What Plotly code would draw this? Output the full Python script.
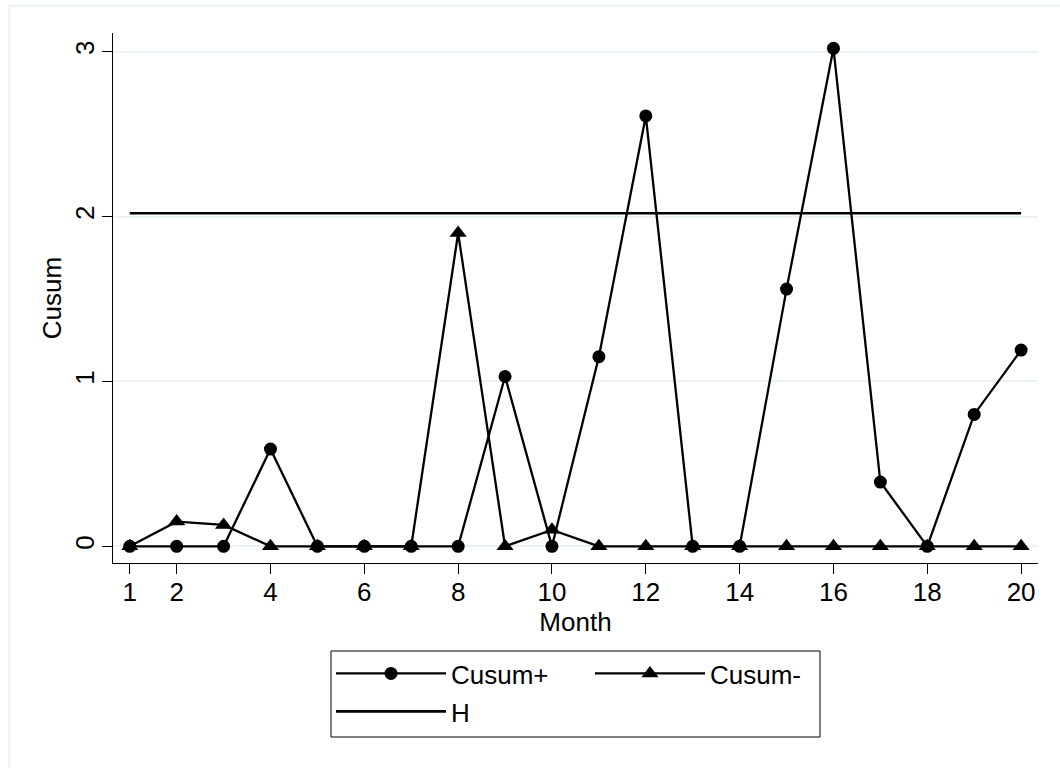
import plotly.graph_objects as go

# ---- data ----
months = list(range(1, 21))
cusum_plus = [0, 0, 0, 0.59, 0, 0, 0, 0, 1.03, 0, 1.15, 2.61, 0, 0, 1.56, 3.02, 0.39, 0, 0.80, 1.19]
cusum_minus = [0, 0.15, 0.13, 0, 0, 0, 0, 1.90, 0, 0.10, 0, 0, 0, 0, 0, 0, 0, 0, 0, 0]
h_value = 2.02
h_line = [h_value] * len(months)
x_tick_vals = [1, 2, 4, 6, 8, 10, 12, 14, 16, 18, 20]
y_tick_vals = [0, 1, 2, 3]

FONT = "Liberation Sans, Arial, Helvetica, sans-serif"
W, H = 1060, 768
L, R, T, B = 113, 22, 33, 205
PW, PH = W - L - R, H - T - B


def px_x(p):
    return (p - L) / PW


def px_y(p):
    return (H - B - p) / PH


fig = go.Figure()
fig.add_trace(go.Scatter(
    x=months, y=cusum_plus, name="Cusum+", mode="lines+markers",
    line=dict(color="black", width=2.3),
    marker=dict(symbol="circle", size=13, color="black"),
    legend="legend",
))
fig.add_trace(go.Scatter(
    x=months, y=cusum_minus, name="Cusum-", mode="lines+markers",
    line=dict(color="black", width=2.3),
    marker=dict(symbol="triangle-up", size=15, color="black"),
    legend="legend",
))
fig.add_trace(go.Scatter(
    x=months, y=h_line, name="H", mode="lines",
    line=dict(color="black", width=2.7),
    legend="legend2",
))

fig.update_layout(
    width=W, height=H,
    margin=dict(l=L, r=R, t=T, b=B),
    paper_bgcolor="white", plot_bgcolor="white",
    font=dict(family=FONT, size=26, color="black"),
    xaxis=dict(
        range=[0.643, 20.36], tickvals=x_tick_vals, ticks="outside", ticklen=10,
        tickcolor="black", tickwidth=1, showline=True, linecolor="black", linewidth=1,
        showgrid=False, zeroline=False, tickfont=dict(size=26), ticklabelstandoff=-4,
        title=dict(text="Month", font=dict(size=26), standoff=0),
    ),
    yaxis=dict(
        range=[-0.101, 3.113], tickvals=y_tick_vals, tickangle=-90, ticks="outside", ticklen=10,
        tickcolor="black", tickwidth=1, showline=True, linecolor="black", linewidth=1,
        showgrid=True, gridcolor="#EAF2F3", gridwidth=2, zeroline=False,
        tickfont=dict(size=26), ticklabelstandoff=-2,
        title=dict(text="Cusum", font=dict(size=26), standoff=0),
    ),
    legend=dict(
        orientation="h", xref="container", yref="container",
        x=331 / W, y=1 - 650 / H, xanchor="left", yanchor="top",
        itemwidth=110, entrywidth=134, bgcolor="rgba(0,0,0,0)", borderwidth=0,
        font=dict(size=26), traceorder="normal", itemclick=False,
    ),
    legend2=dict(
        orientation="h", xref="container", yref="container",
        x=331 / W, y=1 - 688 / H, xanchor="left", yanchor="top",
        itemwidth=110, bgcolor="rgba(0,0,0,0)", borderwidth=0,
        font=dict(size=26), itemclick=False,
    ),
    showlegend=True,
    shapes=[
        dict(type="rect", xref="paper", yref="paper",
             x0=px_x(9.3), x1=px_x(1075), y0=px_y(790), y1=px_y(5.7),
             line=dict(color="#EAF2F3", width=2), fillcolor="rgba(0,0,0,0)", layer="below"),
        dict(type="rect", xref="paper", yref="paper",
             x0=px_x(331), x1=px_x(820), y0=px_y(737), y1=px_y(651),
             line=dict(color="black", width=1), fillcolor="rgba(0,0,0,0)"),
    ],
)

fig.write_html("out.html")
